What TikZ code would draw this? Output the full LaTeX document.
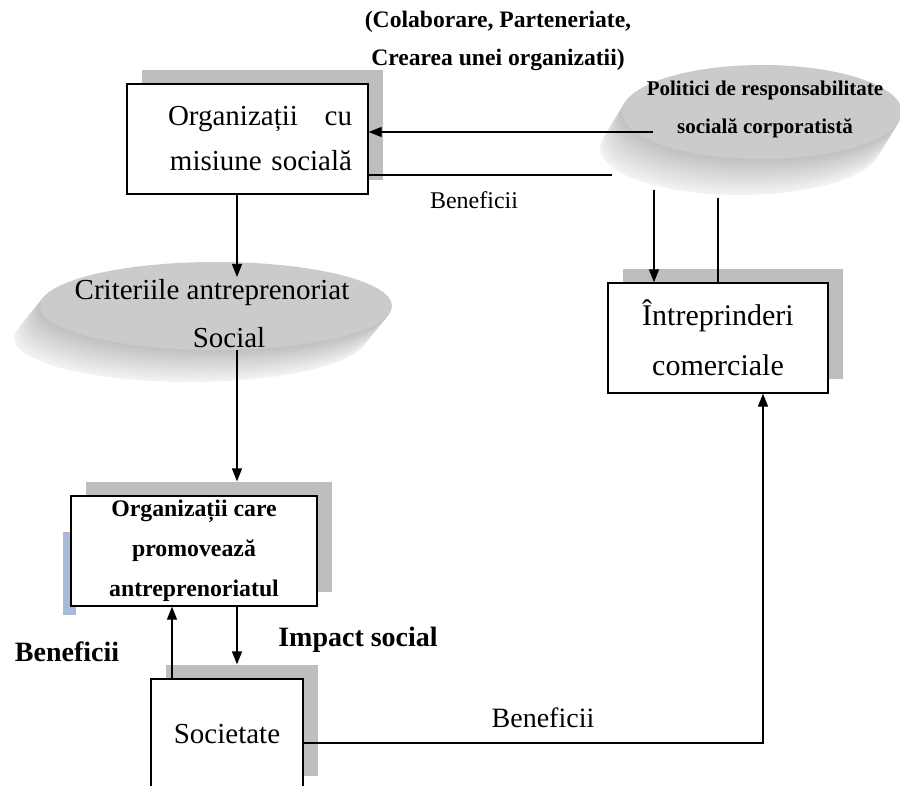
\documentclass[tikz,border=0pt]{standalone}
\usepackage{fontspec}
\setmainfont{Liberation Serif}
\usepackage{tikz}
\usetikzlibrary{arrows.meta, positioning, calc, shadows}
\definecolor{shadowgray}{RGB}{190,190,190}
\definecolor{stripeblue}{RGB}{168,186,216}
\definecolor{discface}{RGB}{203,203,203}

\begin{document}
\begin{tikzpicture}[x=0.5pt, y=-0.5pt,
  box/.style={draw, line width=0.6pt, fill=white, align=center,
    general shadow={fill=shadowgray, shadow xshift=7.5pt, shadow yshift=7pt}},
  arr/.style={line width=0.6pt, -{Triangle[length=6.5pt, width=5pt]}},
  link/.style={line width=0.6pt},
  lbl/.style={font=\bfseries\fontsize{14}{16}\selectfont}]
\useasboundingbox (0,0) rectangle (900,786);

% the two discs
\foreach \k in {1,...,20} {
  \pgfmathtruncatemacro{\g}{8+2*\k}
  \fill[gray!\g] ({762-22*(21-\k)/20},{112+36*(21-\k)/20}) ellipse [x radius=140, y radius=47];
  \fill[gray!\g] ({216-26*(21-\k)/20},{306+32*(21-\k)/20}) ellipse [x radius=176, y radius=44];
}
\fill[discface] (762,112) ellipse [x radius=140, y radius=47];
\fill[discface] (216,306) ellipse [x radius=176, y radius=44];

\node[font=\bfseries\fontsize{10.5}{19}\selectfont, align=center] (pol) at (765,109) {Politici de responsabilitate\\socială corporatistă};
\node[font=\fontsize{14.5}{24}\selectfont, align=center] (crit) at (212,314) {Criteriile antreprenoriat\\\hspace*{17pt}Social};

% boxes
\node[box, minimum width=120.5pt, minimum height=55pt, text width=104.5pt, inner xsep=8pt, align=right,
  font=\fontsize{14.5}{22.5}\selectfont] (org) at (247.5,139) {\makebox[92pt]{Organizații\hfill cu}\\misiune socială};
\node[box, minimum width=110pt, minimum height=55pt, font=\fontsize{15}{25}\selectfont] (intr) at (718,338) {Întreprinderi\\comerciale};
\fill[stripeblue] (63,532) rectangle (76,615);
\node[box, minimum width=123pt, minimum height=55pt, inner ysep=1pt,
  font=\bfseries\fontsize{11.9}{20}\selectfont] (prom) at (194,551) {Organizații care\\promovează\\antreprenoriatul};
\node[box, minimum width=76pt, minimum height=55.5pt, font=\fontsize{14.5}{24}\selectfont] (soc) at (227,734.5) {Societate};

% labels
\node[font=\bfseries\fontsize{11.8}{19}\selectfont, align=center] (collab) at (498,41) {(Colaborare, Parteneriate,\\Crearea unei organizatii)};
\node[font=\fontsize{12}{14}\selectfont] (benTop) at (474,200) {Beneficii};
\node[lbl] (benLeft) at (67,652) {Beneficii};
\node[lbl] (impact) at (358,640) {Impact social};
\node[font=\fontsize{14}{16}\selectfont] (benBot) at (543,718) {Beneficii};

% connectors
\coordinate (polA) at (653,132);
\coordinate (polB) at (612,175);
\coordinate (polC) at (654,190);
\coordinate (polD) at (718,198);
\coordinate (critA) at (237,277);
\coordinate (critB) at (237,350);

\draw[arr] (polA) -- (polA -| org.east);
\draw[link] (polB) -- (polB -| org.east);
\draw[arr] (polC) -- (polC |- intr.north);
\draw[link] (polD) -- (polD |- intr.north);
\draw[arr] (critA |- org.south) -- (critA);
\draw[arr, shorten >=7pt] (critB) -- (critB |- prom.north);
\draw[arr] ([xshift=-27.5pt]soc.north) -- ([xshift=-27.5pt]soc.north |- prom.south);
\draw[arr, shorten >=7pt] ([xshift=21.5pt]prom.south) -- ([xshift=21.5pt]prom.south |- soc.north);
\draw[arr] ([yshift=-4.25pt]soc.east) -| ([xshift=22.5pt]intr.south);
\end{tikzpicture}
\end{document}
